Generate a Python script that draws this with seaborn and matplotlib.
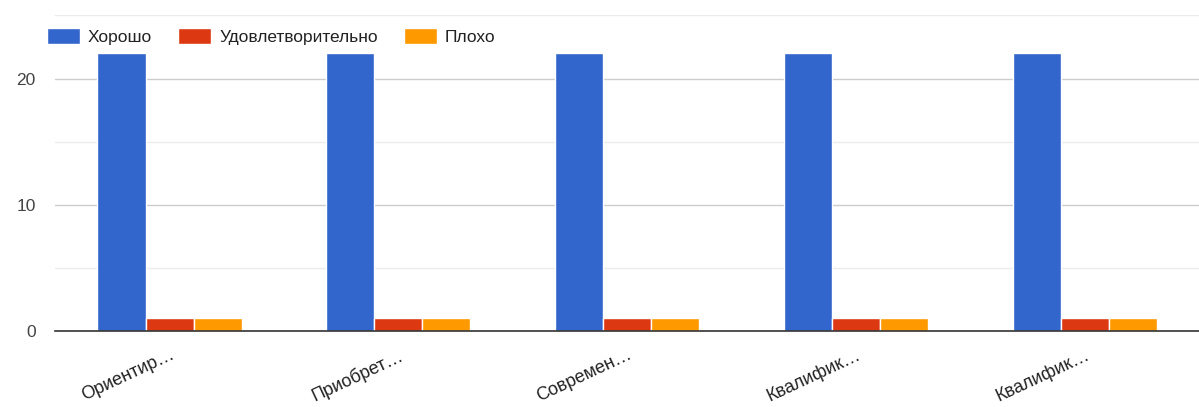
import pandas as pd
import numpy as np
import seaborn as sns
import matplotlib.pyplot as plt

# подписи категорий (обрезаны как в оригинале)
categories = ['Ориентир…', 'Приобрет…', 'Современ…', 'Квалифик…', 'Квалифик…']
series_names = ['Хорошо', 'Удовлетворительно', 'Плохо']
good = [22, 22, 22, 22, 22]
ok = [1, 1, 1, 1, 1]
bad = [1, 1, 1, 1, 1]
colors = ['#3366cc', '#dc3912', '#ff9900']

rows = []
for i in range(len(categories)):
    for name, vals in zip(series_names, [good, ok, bad]):
        rows.append({'cat': i, 'series': name, 'value': vals[i]})
df = pd.DataFrame(rows)

sns.set_style('white')
plt.rcParams['font.family'] = ['Arial', 'Liberation Sans', 'DejaVu Sans']

fig, ax = plt.subplots(figsize=(11.99, 4.07), dpi=100)
fig.subplots_adjust(left=0.046, right=1.0, top=0.962, bottom=0.187)

sns.barplot(data=df, x='cat', y='value', hue='series', hue_order=series_names,
            palette=colors, width=0.63, saturation=1, ax=ax, zorder=3)

ax.set_ylim(0, 25)
ax.set_xlim(-0.5, len(categories) - 0.5)
ax.set_yticks([0, 10, 20])
ax.set_yticks([5, 15, 25], minor=True)
ax.grid(axis='y', which='major', color='#cccccc', lw=1, zorder=0)
ax.grid(axis='y', which='minor', color='#ebebeb', lw=1, zorder=0)
ax.tick_params(axis='y', which='both', length=0, labelsize=12.5, colors='#444444', pad=14)
ax.tick_params(axis='x', length=0, pad=11)
ax.set_xticks(range(len(categories)))
ax.set_xticklabels(categories, rotation=25, ha='right', rotation_mode='anchor',
                   fontsize=13, color='#222222')
ax.set_xlabel('')
ax.set_ylabel('')
for s in ['top', 'right', 'left']:
    ax.spines[s].set_visible(False)
ax.spines['bottom'].set_color('#333333')
ax.spines['bottom'].set_linewidth(1.2)
ax.spines['bottom'].set_zorder(4)

leg = ax.legend(loc='upper left', bbox_to_anchor=(-0.013, 0.981), ncol=3, frameon=False,
                fontsize=12.5, handlelength=1.9, handleheight=1.0, columnspacing=1.5,
                handletextpad=0.45, borderaxespad=0)
for t in leg.get_texts():
    t.set_color('#222222')

plt.savefig('out.png', dpi=100)
